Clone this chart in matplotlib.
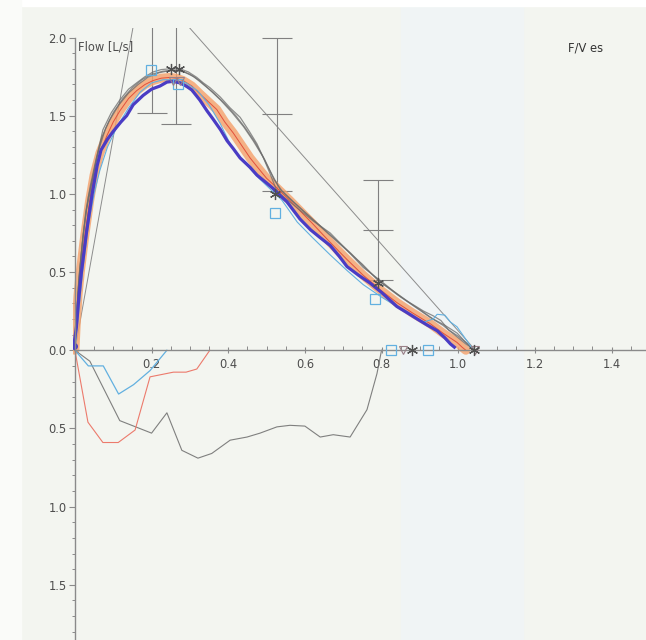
"""
Flow/volume loop (F/V es), recreated from a scanned spirometry print.
Output: out.png
"""

import matplotlib
import matplotlib.pyplot as plt
from matplotlib.patches import Rectangle
from matplotlib.ticker import FuncFormatter, MultipleLocator

matplotlib.use("Agg")

# --- expiratory trials (volume L, flow L/s) ---------------------------------
BEST_VOL = [-0.003, 0.004, 0.010, 0.017, 0.030, 0.045, 0.058, 0.068, 0.085, 0.100,
            0.120, 0.135, 0.152, 0.178, 0.200, 0.222, 0.240, 0.256, 0.274, 0.290,
            0.305, 0.326, 0.345, 0.360, 0.380, 0.397, 0.413, 0.431, 0.457, 0.475,
            0.500, 0.517, 0.535, 0.553, 0.587, 0.615, 0.640, 0.666, 0.690, 0.710,
            0.740, 0.770, 0.800, 0.840, 0.867, 0.893, 0.920, 0.945, 0.965, 0.980, 0.990]
BEST_FLOW = [0.03, 0.15, 0.33, 0.50, 0.75, 1.00, 1.18, 1.28, 1.35, 1.40,
             1.46, 1.50, 1.57, 1.63, 1.67, 1.69, 1.715, 1.72, 1.71, 1.69,
             1.665, 1.60, 1.53, 1.48, 1.41, 1.34, 1.29, 1.23, 1.17, 1.12,
             1.07, 1.035, 0.99, 0.95, 0.84, 0.77, 0.72, 0.67, 0.60, 0.535,
             0.48, 0.43, 0.37, 0.28, 0.24, 0.20, 0.16, 0.125, 0.08, 0.04, 0.02]

ORANGE_VOL = [0.000, 0.003, 0.008, 0.014, 0.025, 0.038, 0.050, 0.065, 0.083, 0.100,
              0.117, 0.140, 0.161, 0.183, 0.204, 0.225, 0.248, 0.265, 0.282, 0.305,
              0.326, 0.348, 0.370, 0.391, 0.413, 0.435, 0.457, 0.480, 0.500, 0.522,
              0.543, 0.560, 0.580, 0.620, 0.666, 0.710, 0.752, 0.800, 0.840, 0.880,
              0.927, 0.960, 0.997, 1.010, 1.020]
ORANGE_FLOW = [0.00, 0.15, 0.35, 0.50, 0.72, 0.95, 1.12, 1.26, 1.37, 1.46,
               1.53, 1.61, 1.66, 1.70, 1.725, 1.74, 1.745, 1.74, 1.725, 1.69,
               1.64, 1.59, 1.54, 1.46, 1.39, 1.31, 1.23, 1.16, 1.10, 1.05,
               1.00, 0.96, 0.91, 0.81, 0.69, 0.58, 0.48, 0.38, 0.305, 0.24,
               0.17, 0.11, 0.05, 0.02, 0.00]

GRAY_A_VOL = [0.000, 0.004, 0.010, 0.020, 0.030, 0.039, 0.050, 0.060, 0.073, 0.095,
              0.117, 0.140, 0.161, 0.183, 0.204, 0.225, 0.248, 0.274, 0.296, 0.318,
              0.335, 0.352, 0.379, 0.405, 0.431, 0.455, 0.475, 0.492, 0.509, 0.525,
              0.545, 0.580, 0.620, 0.666, 0.710, 0.752, 0.800, 0.840, 0.880, 0.927,
              0.965, 0.997, 1.020, 1.040]
GRAY_A_FLOW = [0.00, 0.20, 0.45, 0.70, 0.90, 1.00, 1.15, 1.27, 1.41, 1.52,
               1.60, 1.67, 1.71, 1.75, 1.78, 1.795, 1.80, 1.80, 1.78, 1.745,
               1.71, 1.68, 1.62, 1.55, 1.49, 1.40, 1.32, 1.23, 1.13, 1.03,
               0.98, 0.91, 0.83, 0.75, 0.64, 0.53, 0.44, 0.36, 0.29, 0.21,
               0.16, 0.11, 0.05, 0.00]

GRAY_B_VOL = [0.000, 0.005, 0.012, 0.022, 0.035, 0.048, 0.062, 0.080, 0.100, 0.125,
              0.150, 0.175, 0.200, 0.230, 0.260, 0.285, 0.310, 0.335, 0.360, 0.390,
              0.420, 0.445, 0.470, 0.495, 0.520, 0.540, 0.570, 0.620, 0.670, 0.720,
              0.760, 0.800, 0.850, 0.900, 0.940, 0.960, 0.990, 1.020, 1.045]
GRAY_B_FLOW = [0.00, 0.25, 0.50, 0.75, 0.98, 1.12, 1.28, 1.42, 1.52, 1.61,
               1.68, 1.73, 1.765, 1.785, 1.79, 1.78, 1.75, 1.70, 1.65, 1.58,
               1.50, 1.42, 1.33, 1.22, 1.09, 1.02, 0.95, 0.84, 0.73, 0.62,
               0.52, 0.43, 0.34, 0.26, 0.19, 0.16, 0.10, 0.04, 0.00]

GRAY_C_VOL = [0.000, 0.003, 0.009, 0.018, 0.028, 0.040, 0.055, 0.070, 0.090, 0.115,
              0.140, 0.165, 0.190, 0.220, 0.250, 0.275, 0.300, 0.325, 0.350, 0.380,
              0.410, 0.440, 0.465, 0.490, 0.515, 0.535, 0.560, 0.600, 0.650, 0.700,
              0.750, 0.790, 0.830, 0.870, 0.910, 0.935, 0.955, 0.975, 1.000, 1.025, 1.040]
GRAY_C_FLOW = [0.00, 0.15, 0.40, 0.65, 0.88, 1.05, 1.22, 1.36, 1.47, 1.57,
               1.645, 1.70, 1.745, 1.775, 1.79, 1.79, 1.765, 1.725, 1.67, 1.60,
               1.52, 1.43, 1.34, 1.24, 1.12, 1.03, 0.97, 0.88, 0.77, 0.66,
               0.55, 0.45, 0.38, 0.31, 0.25, 0.22, 0.19, 0.13, 0.09, 0.04, 0.00]

LBLUE_VOL = [0.000, 0.008, 0.020, 0.035, 0.050, 0.065, 0.085, 0.110, 0.140, 0.170,
             0.200, 0.230, 0.260, 0.290, 0.320, 0.350, 0.379, 0.405, 0.420, 0.450,
             0.480, 0.510, 0.540, 0.580, 0.620, 0.666, 0.710, 0.752, 0.800, 0.840,
             0.880, 0.910, 0.935, 0.945, 0.965, 0.980, 0.997, 1.020, 1.040]
LBLUE_FLOW = [0.00, 0.20, 0.50, 0.80, 1.00, 1.15, 1.30, 1.43, 1.55, 1.65,
              1.71, 1.73, 1.73, 1.71, 1.66, 1.57, 1.45, 1.32, 1.26, 1.18,
              1.10, 1.03, 0.96, 0.82, 0.72, 0.61, 0.51, 0.42, 0.34, 0.28,
              0.22, 0.18, 0.20, 0.23, 0.225, 0.18, 0.15, 0.07, 0.00]

# --- inspiratory trials (negative flow) -------------------------------------
INSP_GRAY_VOL = [0.000, 0.039, 0.117, 0.200, 0.240, 0.279, 0.321, 0.357, 0.405, 0.449,
                 0.483, 0.527, 0.561, 0.600, 0.640, 0.674, 0.718, 0.762, 0.788, 0.800]
INSP_GRAY_FLOW = [0.00, -0.07, -0.45, -0.53, -0.40, -0.64, -0.69, -0.66, -0.575, -0.555,
                  -0.53, -0.49, -0.48, -0.485, -0.555, -0.54, -0.555, -0.38, -0.15, 0.00]
INSP_RED_VOL = [0.000, 0.034, 0.073, 0.113, 0.157, 0.196, 0.257, 0.290, 0.318, 0.352]
INSP_RED_FLOW = [0.00, -0.46, -0.59, -0.59, -0.51, -0.17, -0.14, -0.14, -0.12, 0.00]
INSP_LBLUE_VOL = [0.000, 0.035, 0.074, 0.114, 0.153, 0.196, 0.240]
INSP_LBLUE_FLOW = [0.00, -0.10, -0.10, -0.28, -0.22, -0.13, 0.00]

# --- markers ---------------------------------------------------------------
STAR_VOL = [0.250, 0.272, 0.523, 0.790, 0.880, 1.040]
STAR_FLOW = [1.80, 1.80, 1.00, 0.43, 0.00, 0.00]
SQUARE_VOL = [0.198, 0.268, 0.522, 0.782, 0.825, 0.922]
SQUARE_FLOW = [1.79, 1.70, 0.88, 0.33, 0.00, 0.00]
TRI_VOL = [0.255, 0.273, 0.855, 1.045]
TRI_FLOW = [1.725, 1.725, 0.00, 0.00]

# --- predicted values with ranges ------------------------------------------
PRED_VOL = [0.200, 0.264, 0.526, 0.790]
PRED_MID = [2.20, 2.15, 1.51, 0.77]
PRED_ERR = [0.68, 0.70, 0.49, 0.32]

# --- reference straight lines ---------------------------------------------
RISE_VOL, RISE_FLOW = [0.0, 0.16], [0.0, 2.18]
FALL_VOL, FALL_FLOW = [0.28, 1.045], [2.115, 0.0]

Y_TICKS = [-1.5, -1.0, -0.5, 0.0, 0.5, 1.0, 1.5, 2.0]
X_TICKS = [0.2, 0.4, 0.6, 0.8, 1.0, 1.2, 1.4]

PAPER = "#f3f5f0"
GRAY = "#6b6b6b"
AXIS = "#8a8a8a"
LBLUE = "#62b0e0"
BEST = "#4a3cc4"
LABEL = "#4d4d4d"


def main():
    fig = plt.figure(figsize=(6.46, 6.40), dpi=100, facecolor=PAPER)
    # scan tint: whiter edges, faint bluish band (kept behind the axes)
    fig.patches.append(Rectangle((0.62, 0), 0.19, 0.99, transform=fig.transFigure,
                                 color="#f0f4f5", zorder=-1))
    fig.patches.append(Rectangle((0, 0.99), 1, 0.01, transform=fig.transFigure,
                                 color="white", zorder=-1))
    fig.patches.append(Rectangle((0, 0), 0.033, 1, transform=fig.transFigure,
                                 color="#fafbf9", zorder=-1))

    ax = fig.add_axes([0.113, 0.0, 0.887, 0.956])
    ax.set_zorder(1)
    ax.set_facecolor("none")
    ax.set_xlim(-0.005, 1.49)
    ax.set_ylim(-1.853, 2.06)

    ax.plot(ORANGE_VOL, ORANGE_FLOW, color="#f5a06a", lw=6.5, alpha=0.8,
            solid_capstyle="round", zorder=2)
    ax.plot(ORANGE_VOL, ORANGE_FLOW, color="#e2503c", lw=0.7, zorder=2.1)
    for v, f in [(GRAY_A_VOL, GRAY_A_FLOW), (GRAY_B_VOL, GRAY_B_FLOW), (GRAY_C_VOL, GRAY_C_FLOW)]:
        ax.plot(v, f, color=GRAY, lw=0.9, alpha=0.75, zorder=2.2)
    ax.plot(LBLUE_VOL, LBLUE_FLOW, color=LBLUE, lw=0.8, zorder=2.3)
    ax.plot(BEST_VOL, BEST_FLOW, color=BEST, lw=2.3, zorder=2.4)
    ax.plot(BEST_VOL[:1], BEST_FLOW[:1], "o", color=BEST, ms=4, zorder=2.5)

    ax.plot(INSP_GRAY_VOL, INSP_GRAY_FLOW, color=GRAY, lw=0.8, alpha=0.85)
    ax.plot(INSP_RED_VOL, INSP_RED_FLOW, color="#ec7a6c", lw=0.8)
    ax.plot(INSP_LBLUE_VOL, INSP_LBLUE_FLOW, color=LBLUE, lw=0.9)

    ax.plot(RISE_VOL, RISE_FLOW, color="#8c8c8c", lw=0.7, zorder=1.5)
    ax.plot(FALL_VOL, FALL_FLOW, color="#8c8c8c", lw=0.7, zorder=1.5)

    ax.errorbar(PRED_VOL, PRED_MID, yerr=PRED_ERR, fmt="none", ecolor="#808080",
                elinewidth=0.8, capsize=10.8, capthick=0.8, zorder=1.6)
    ax.plot(PRED_VOL, PRED_MID, ls="none", marker="_", ms=21.6, mew=0.8,
            color="#808080", zorder=1.6)

    ax.plot(SQUARE_VOL, SQUARE_FLOW, ls="none", marker="s", ms=6.5, mfc="none",
            mec=LBLUE, mew=0.9, zorder=3)
    ax.plot(TRI_VOL, TRI_FLOW, ls="none", marker="v", ms=6, mfc="none",
            mec="#9a8088", mew=0.8, zorder=3)
    ax.plot(STAR_VOL, STAR_FLOW, ls="none", marker=(6, 2, 0), ms=8, mew=0.9,
            color="#505050", zorder=3)

    # axes styling
    for side in ("top", "right"):
        ax.spines[side].set_visible(False)
    ax.spines["left"].set_position(("data", 0))
    ax.spines["bottom"].set_position(("data", 0))
    ax.spines["left"].set_bounds(-1.853, 2.0)
    ax.spines["bottom"].set_bounds(0, 1.49)
    for side in ("left", "bottom"):
        ax.spines[side].set_color(AXIS)
        ax.spines[side].set_linewidth(1.0)

    ax.set_xticks(X_TICKS)
    ax.set_yticks(Y_TICKS)
    ax.xaxis.set_minor_locator(MultipleLocator(0.05))
    ax.yaxis.set_minor_locator(MultipleLocator(0.1))
    ax.xaxis.set_major_formatter(FuncFormatter(lambda v, p: f"{v:.1f}"))
    ax.yaxis.set_major_formatter(FuncFormatter(lambda v, p: f"{abs(v):.1f}"))
    ax.tick_params(axis="x", which="major", direction="inout", length=5, width=0.8,
                   color=AXIS, labelsize=8.3, labelcolor=LABEL, pad=3)
    ax.tick_params(axis="x", which="minor", direction="in", length=3, width=0.7, color=AXIS)
    ax.tick_params(axis="y", which="major", direction="out", length=4, width=0.8,
                   color=AXIS, labelsize=8.3, labelcolor=LABEL, pad=2)
    ax.tick_params(axis="y", which="minor", direction="out", length=2.5, width=0.7, color=AXIS)

    ax.text(0.008, 1.94, "Flow [L/s]", fontsize=8.3, color=LABEL, ha="left", va="center")
    ax.text(1.287, 1.93, "F/V es", fontsize=8.3, color="#333333", ha="left", va="center")

    fig.savefig("out.png", dpi=100, facecolor=fig.get_facecolor())
    plt.close(fig)


if __name__ == "__main__":
    main()
